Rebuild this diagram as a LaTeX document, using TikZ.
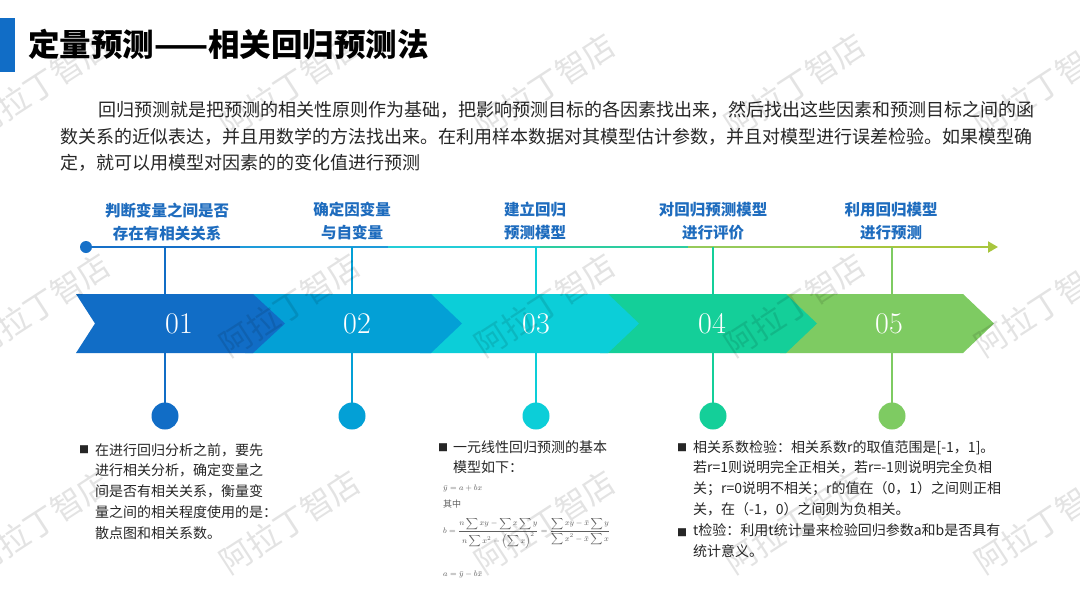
\documentclass[tikz,border=0pt]{standalone}
\usepackage{fontspec}
\usepackage{amsmath}
\newfontfamily\cjk{Noto Sans CJK SC}
\usetikzlibrary{arrows.meta}
\definecolor{cA}{RGB}{17,109,198}
\definecolor{cB}{RGB}{3,160,214}
\definecolor{cC}{RGB}{12,206,216}
\definecolor{cD}{RGB}{20,207,153}
\definecolor{cE}{RGB}{126,203,98}
\definecolor{lA}{RGB}{22,112,200}
\definecolor{lB}{RGB}{30,155,218}
\definecolor{lC}{RGB}{35,205,215}
\definecolor{lD}{RGB}{45,205,160}
\definecolor{lE}{RGB}{150,202,90}
\definecolor{lF}{RGB}{168,198,62}
\definecolor{labelblue}{RGB}{30,108,190}
\definecolor{textdark}{RGB}{38,38,38}
\definecolor{fgray}{RGB}{95,95,95}
\tikzset{
  wm/.style={font=\cjk\fontsize{32}{32}\selectfont, text=black, opacity=0.11, rotate=33, inner sep=0},
  steplabel/.style={font=\cjk\bfseries\fontsize{15.5}{23}\selectfont, text=labelblue, align=center, inner sep=0},
  num/.style={font=\fontsize{30}{30}\selectfont, text=white, inner sep=0},
  body/.style={font=\cjk\fontsize{14}{20.8}\selectfont, text=textdark, align=left, anchor=north west, inner sep=0},
  para/.style={font=\cjk\fontsize{18}{26.5}\selectfont, text=textdark, anchor=west, inner sep=0},
  bul/.style={font=\cjk\fontsize{10}{10}\selectfont, text=textdark, inner sep=0},
  dotc/.style={circle, minimum size=27pt, inner sep=0},
  fml/.style={font=\fontsize{8.5}{10}\selectfont, text=fgray, anchor=west, inner sep=0},
  tl/.style={line width=2pt},
  vl/.style={line width=1.6pt},
}
\begin{document}
\begin{tikzpicture}[x=1pt,y=-1pt]
\useasboundingbox (0,0) rectangle (1080,608);
\fill[white] (0,0) rectangle (1080,608);
% title
\fill[cA] (0,18) rectangle (15,72);
\node[font=\cjk\bfseries\fontsize{31.5}{31.5}\selectfont, anchor=west, inner sep=0] (title) at (28,45) {定量预测——相关回归预测法};
% paragraph
\node[para] (p1) at (98,110) {回归预测就是把预测的相关性原则作为基础，把影响预测目标的各因素找出来，然后找出这些因素和预测目标之间的函};
\node[para] (p2) at (60,137) {数关系的近似表达，并且用数学的方法找出来。在利用样本数据对其模型估计参数，并且对模型进行误差检验。如果模型确};
\node[para] (p3) at (60,163) {定，就可以用模型对因素的的变化值进行预测};
% step labels
\node[steplabel] (l1) at (167,221.5) {判断变量之间是否\\存在有相关关系};
\node[steplabel] (l2) at (352,221.5) {确定因变量\\与自变量};
\node[steplabel] (l3) at (535,221.5) {建立回归\\预测模型};
\node[steplabel] (l4) at (713,221.5) {对回归预测模型\\进行评价};
\node[steplabel] (l5) at (891,221.5) {利用回归模型\\进行预测};
% timeline
\node[circle, fill=lA, minimum size=12pt, inner sep=0] (start) at (86,247) {};
\coordinate (s1) at (240,247);
\coordinate (s2) at (388,247);
\coordinate (s3) at (540,247);
\coordinate (s4) at (688,247);
\coordinate (s5) at (838,247);
\coordinate (tend) at (998,247);
\draw[tl, lA] (start.center) -- (s1);
\draw[tl, lB] (s1) -- (s2);
\draw[tl, lC] (s2) -- (s3);
\draw[tl, lD] (s3) -- (s4);
\draw[tl, lE] (s4) -- (s5);
\draw[tl, lF, -{Triangle[length=10pt,width=11pt]}] (s5) -- (tend);
% dots and vertical lines
\coordinate (t1) at (165,247);
\coordinate (t2) at (352,247);
\coordinate (t3) at (536,247);
\coordinate (t4) at (713,247);
\coordinate (t5) at (892,247);
\node[dotc, fill=cA] (d1) at (165,416) {};
\node[dotc, fill=cB] (d2) at (352,416) {};
\node[dotc, fill=cC] (d3) at (536,416) {};
\node[dotc, fill=cD] (d4) at (713,416) {};
\node[dotc, fill=cE] (d5) at (892,416) {};
\draw[vl, cA] (t1) -- (d1.center);
\draw[vl, cB] (t2) -- (d2.center);
\draw[vl, cC] (t3) -- (d3.center);
\draw[vl, cD] (t4) -- (d4.center);
\draw[vl, cE] (t5) -- (d5.center);
% chevrons
\fill[cE] (780,294) -- (963,294) -- (994,323.5) -- (963,353) -- (780,353) -- cycle;
\fill[cD] (600,294) -- (786,294) -- (817,323.5) -- (786,353) -- (600,353) -- cycle;
\fill[cC] (420,294) -- (608,294) -- (639,323.5) -- (608,353) -- (420,353) -- cycle;
\fill[cB] (245,294) -- (431,294) -- (462,323.5) -- (431,353) -- (245,353) -- cycle;
\fill[cA] (76,294) -- (253,294) -- (285,323.5) -- (253,353) -- (76,353) -- (95,323.5) -- cycle;
\node[num] (n1) at (179,323.5) {01};
\node[num] (n2) at (357,323.5) {02};
\node[num] (n3) at (536,323.5) {03};
\node[num] (n4) at (712,323.5) {04};
\node[num] (n5) at (889,323.5) {05};
% bottom text block 1
\node[bul] (b1) at (84,450) {■};
\node[body] (tx1) at (95,443) {在进行回归分析之前，要先\\进行相关分析，确定变量之\\间是否有相关关系，衡量变\\量之间的相关程度使用的是：\\散点图和相关系数。};
% block 2
\node[bul] (b2) at (443,448) {■};
\node[body] (tx2) at (453,440) {一元线性回归预测的基本\\模型如下：};
\node[fml] (f1) at (443,488) {$\bar{y}=a+bx$};
\node[fml, font=\cjk\fontsize{9}{11}\selectfont] (f2) at (443,504) {其中};
\node[fml] (f3) at (443,533) {$b=\dfrac{n\displaystyle\sum xy-\sum x\sum y}{n\displaystyle\sum x^{2}-\Bigl(\sum x\Bigr)^{2}}=\dfrac{\displaystyle\sum xy-\bar{x}\sum y}{\displaystyle\sum x^{2}-\bar{x}\sum x}$};
\node[fml] (f4) at (443,574) {$a=\bar{y}-b\bar{x}$};
% block 3
\node[bul] (b3) at (682,448) {■};
\node[body] (tx3) at (693,440) {相关系数检验：相关系数r的取值范围是[-1，1]。\\若r=1则说明完全正相关，若r=-1则说明完全负相\\关；r=0说明不相关；r的值在（0，1）之间则正相\\关，在（-1，0）之间则为负相关。\\t检验：利用t统计量来检验回归参数a和b是否具有\\统计意义。};
\node[bul] (b4) at (682,533) {■};
% watermarks
\foreach \wx/\wy [count=\i] in {40/85,290/85,545/85,795/85,1045/85,40/305,290/305,545/305,795/305,1045/305,40/522,290/522,545/522,795/522,1045/522}
  \node[wm] (wm\i) at (\wx,\wy) {阿拉丁智店};
\end{tikzpicture}
\end{document}
